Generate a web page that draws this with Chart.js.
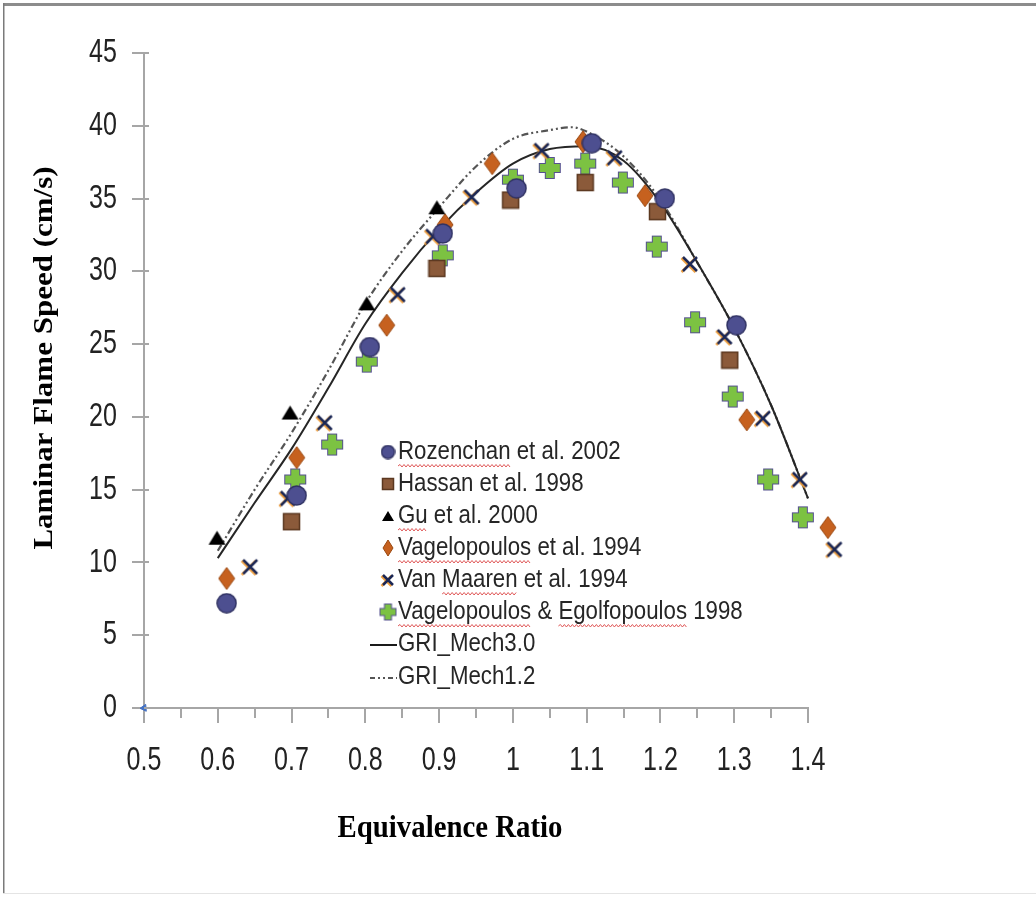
<!DOCTYPE html>
<html>
<head>
<meta charset="utf-8">
<script src="https://cdn.jsdelivr.net/npm/chart.js@4.4.1/dist/chart.umd.min.js"></script>
<style>
  body { margin: 0; background: #fff; }
  #wrap { width: 1036px; height: 897px; }
</style>
</head>
<body>
<div id="wrap"><canvas id="chart" width="1036" height="897"></canvas></div>
<script>
// experimental data (equivalence ratio, laminar flame speed cm/s)
const rozenchanPhi = [0.612, 0.707, 0.806, 0.905, 1.005, 1.107, 1.206, 1.303];
const rozenchanSpeed = [7.2, 14.6, 24.8, 32.6, 35.7, 38.8, 35.0, 26.3];

const hassanPhi = [0.70, 0.897, 0.997, 1.098, 1.196, 1.294];
const hassanSpeed = [12.8, 30.2, 34.9, 36.1, 34.1, 23.9];

const guPhi = [0.599, 0.698, 0.802, 0.897];
const guSpeed = [11.7, 20.3, 27.8, 34.4];

const vag94Phi = [0.612, 0.707, 0.829, 0.908, 0.972, 1.095, 1.179, 1.317, 1.427];
const vag94Speed = [8.9, 17.2, 26.3, 33.2, 37.4, 38.9, 35.2, 19.8, 12.4];

const maarenPhi = [0.644, 0.695, 0.745, 0.844, 0.892, 0.944, 1.039, 1.138, 1.240, 1.287, 1.339, 1.389, 1.436];
const maarenSpeed = [9.7, 14.4, 19.6, 28.4, 32.4, 35.1, 38.3, 37.8, 30.5, 25.5, 19.9, 15.7, 10.9];

const vagEgPhi = [0.705, 0.755, 0.802, 0.905, 1.0, 1.05, 1.098, 1.149, 1.195, 1.247, 1.298, 1.346, 1.393];
const vagEgSpeed = [15.7, 18.1, 23.8, 31.1, 36.3, 37.1, 37.4, 36.1, 31.7, 26.5, 21.4, 15.7, 13.1];

// model curves
const gri30Phi = [0.6, 0.65, 0.7, 0.75, 0.8, 0.85, 0.9, 0.95, 1.0, 1.05, 1.1, 1.15, 1.2, 1.25, 1.3, 1.35, 1.4];
const gri30Speed = [10.3, 14.1, 17.8, 22.0, 26.4, 29.9, 32.9, 35.4, 37.4, 38.4, 38.6, 37.6, 34.7, 30.6, 26.1, 20.8, 14.4];

const gri12Phi = [0.6, 0.65, 0.7, 0.75, 0.8, 0.85, 0.9, 0.95, 1.0, 1.05, 1.08, 1.1, 1.15, 1.2, 1.25, 1.3, 1.35, 1.4];
const gri12Speed = [10.8, 15.0, 18.9, 23.2, 27.8, 31.4, 34.4, 37.2, 39.1, 39.7, 39.9, 39.6, 37.9, 34.9, 30.6, 26.1, 20.8, 14.4];

const seriesNames = [
  "Rozenchan et al. 2002",
  "Hassan et al. 1998",
  "Gu et al. 2000",
  "Vagelopoulos et al. 1994",
  "Van Maaren et al. 1994",
  "Vagelopoulos & Egolfopoulos 1998",
  "GRI_Mech3.0",
  "GRI_Mech1.2"
];
// words with the red spell-check squiggle, per legend row
const squiggleWords = [["Rozenchan"], [], ["Gu"], ["Vagelopoulos"], ["Maaren"], ["Vagelopoulos", "Egolfopoulos"], [], []];

const xTickValues = [0.5, 0.55, 0.6, 0.65, 0.7, 0.75, 0.8, 0.85, 0.9, 0.95, 1.0, 1.05, 1.1, 1.15, 1.2, 1.25, 1.3, 1.35, 1.4];
const xTickLabels = ["0.5", "", "0.6", "", "0.7", "", "0.8", "", "0.9", "", "1", "", "1.1", "", "1.2", "", "1.3", "", "1.4"];
const yTickValues = [0, 5, 10, 15, 20, 25, 30, 35, 40, 45];
const yTickLabels = ["0", "5", "10", "15", "20", "25", "30", "35", "40", "45"];

const SANS = "'Liberation Sans', Arimo, sans-serif";
const SERIF = "'Liberation Serif', 'DejaVu Serif', serif";

function pts(xs, ys) {
  return xs.map((x, i) => ({ x: x, y: ys[i] }));
}

function makeMarker(w, h, draw) {
  const c = document.createElement("canvas");
  c.width = w;
  c.height = h;
  draw(c.getContext("2d"), w, h);
  return c;
}

// marker pictures
function circleMarker(s) {
  return makeMarker(s + 2, s + 2, (g, w, h) => {
    g.beginPath();
    g.arc(w / 2, h / 2, s / 2, 0, Math.PI * 2);
    g.fillStyle = "#4d4f90";
    g.fill();
    g.lineWidth = 1.5;
    g.strokeStyle = "#303263";
    g.stroke();
  });
}
function squareMarker(s) {
  return makeMarker(s + 2, s + 2, (g) => {
    g.fillStyle = "#8b5a3a";
    g.fillRect(1, 1, s, s);
    g.lineWidth = 1.5;
    g.strokeStyle = "#5b3820";
    g.strokeRect(1.5, 1.5, s - 1, s - 1);
  });
}
function triangleMarker(s) {
  const h = Math.round(s * 0.8);
  return makeMarker(s + 2, h + 2, (g) => {
    g.beginPath();
    g.moveTo(1 + s / 2, 1);
    g.lineTo(1 + s, 1 + h);
    g.lineTo(1, 1 + h);
    g.closePath();
    g.fillStyle = "#000";
    g.fill();
  });
}
function diamondMarker(w, h) {
  return makeMarker(w + 2, h + 2, (g) => {
    g.beginPath();
    g.moveTo(1 + w / 2, 1);
    g.lineTo(1 + w, 1 + h / 2);
    g.lineTo(1 + w / 2, 1 + h);
    g.lineTo(1, 1 + h / 2);
    g.closePath();
    g.fillStyle = "#c6611f";
    g.fill();
    g.lineWidth = 1;
    g.strokeStyle = "#9a4810";
    g.stroke();
  });
}
function crossMarker(s) {
  return makeMarker(s + 6, s + 6, (g, w) => {
    const c = w / 2, r = s / 2;
    g.lineWidth = 2.5;
    g.strokeStyle = "#f0a040";
    g.beginPath();
    g.moveTo(c - r - 1.5, c - r + 1); g.lineTo(c + r - 1.5, c + r + 1);
    g.moveTo(c + r - 1.5, c - r + 1); g.lineTo(c - r - 1.5, c + r + 1);
    g.stroke();
    g.strokeStyle = "#1b2755";
    g.beginPath();
    g.moveTo(c - r, c - r); g.lineTo(c + r, c + r);
    g.moveTo(c + r, c - r); g.lineTo(c - r, c + r);
    g.stroke();
  });
}
function plusMarker(s) {
  return makeMarker(s + 4, s + 4, (g, w) => {
    const c = w / 2, r = s / 2, a = s * 0.2;
    g.beginPath();
    g.moveTo(c - a, c - r); g.lineTo(c + a, c - r); g.lineTo(c + a, c - a);
    g.lineTo(c + r, c - a); g.lineTo(c + r, c + a); g.lineTo(c + a, c + a);
    g.lineTo(c + a, c + r); g.lineTo(c - a, c + r); g.lineTo(c - a, c + a);
    g.lineTo(c - r, c + a); g.lineTo(c - r, c - a); g.lineTo(c - a, c - a);
    g.closePath();
    g.lineWidth = 2;
    g.strokeStyle = "#55518f";
    g.stroke();
    g.fillStyle = "#7cc242";
    g.fill();
  });
}

const plotMarkers = [
  circleMarker(19), squareMarker(17), triangleMarker(17),
  diamondMarker(16, 22), crossMarker(14), plusMarker(20)
];
const legendMarkers = [
  circleMarker(13), squareMarker(12), triangleMarker(12),
  diamondMarker(10, 16), crossMarker(10), plusMarker(15)
];

const scatterData = [
  pts(rozenchanPhi, rozenchanSpeed),
  pts(hassanPhi, hassanSpeed),
  pts(guPhi, guSpeed),
  pts(vag94Phi, vag94Speed),
  pts(maarenPhi, maarenSpeed),
  pts(vagEgPhi, vagEgSpeed)
];

// pointRadius only sets the margin for the in-area test here (images keep their own size),
// it is large so the points just right of 1.4 are not dropped
const datasets = scatterData.map((d, i) => ({
  label: seriesNames[i],
  data: d,
  pointStyle: plotMarkers[i],
  pointRadius: 40,
  showLine: false,
  clip: false,
  order: 1
}));

datasets.push({
  label: seriesNames[6],
  data: pts(gri30Phi, gri30Speed),
  showLine: true,
  borderColor: "#262626",
  borderWidth: 2,
  pointRadius: 0,
  cubicInterpolationMode: "monotone",
  order: 5
});
datasets.push({
  label: seriesNames[7],
  data: pts(gri12Phi, gri12Speed),
  showLine: true,
  borderColor: "#555",
  borderWidth: 2.2,
  borderDash: [7, 3, 2, 3, 2, 3],
  pointRadius: 0,
  cubicInterpolationMode: "monotone",
  order: 6
});
// the little stray blue marker at the origin
datasets.push({
  label: "",
  data: [{ x: 0.5, y: 0 }],
  pointStyle: "triangle",
  pointRadius: 4,
  rotation: 25,
  backgroundColor: "#4472c4",
  borderColor: "#4472c4",
  showLine: false,
  clip: false,
  order: 0
});

function squiggle(ctx, x0, x1, y) {
  ctx.save();
  ctx.strokeStyle = "#e05a5a";
  ctx.lineWidth = 1;
  ctx.beginPath();
  let up = true;
  ctx.moveTo(x0, y);
  for (let x = x0 + 2; x <= x1; x += 2) {
    ctx.lineTo(x, up ? y - 1.5 : y + 1);
    up = !up;
  }
  ctx.stroke();
  ctx.restore();
}

// narrow text: the original uses a condensed face, squeeze Liberation Sans
function narrowText(ctx, text, x, y, sx) {
  ctx.save();
  ctx.translate(x, y);
  ctx.scale(sx, 1);
  ctx.fillText(text, 0, 0);
  ctx.restore();
}

const decorations = {
  id: "decorations",
  beforeDraw(chart) {
    const ctx = chart.ctx;
    ctx.save();
    ctx.fillStyle = "#fff";
    ctx.fillRect(0, 0, chart.width, chart.height);
    // frame of the original figure
    ctx.fillStyle = "#8c8c8c";
    ctx.fillRect(3, 3, chart.width - 3, 3);
    ctx.fillStyle = "#7a7a7a";
    ctx.fillRect(3, 3, 1.5, chart.height - 6);
    ctx.fillStyle = "#e4e4e4";
    ctx.fillRect(3, chart.height - 4, chart.width - 3, 1);
    ctx.restore();
  },
  afterDraw(chart) {
    const ctx = chart.ctx;
    const xs = chart.scales.x;
    const ys = chart.scales.y;

    ctx.save();
    ctx.strokeStyle = "#a6a6a6";
    ctx.lineWidth = 2;
    // y ticks cross the axis a little
    yTickValues.forEach((v) => {
      const py = Math.round(ys.getPixelForValue(v));
      ctx.beginPath();
      ctx.moveTo(xs.left, py);
      ctx.lineTo(xs.left + 5, py);
      ctx.stroke();
    });
    // labelled x ticks are a bit longer than the in-between ones
    xTickValues.forEach((v, i) => {
      if (!xTickLabels[i]) return;
      const px = Math.round(xs.getPixelForValue(v));
      ctx.beginPath();
      ctx.moveTo(px, ys.bottom + 10);
      ctx.lineTo(px, ys.bottom + 15);
      ctx.stroke();
    });
    ctx.restore();

    // tick labels
    ctx.save();
    ctx.fillStyle = "#222";
    ctx.font = "33px " + SANS;
    ctx.textBaseline = "middle";
    ctx.textAlign = "center";
    xTickValues.forEach((v, i) => {
      if (xTickLabels[i]) narrowText(ctx, xTickLabels[i], xs.getPixelForValue(v), 761, 0.76);
    });
    ctx.textAlign = "right";
    yTickValues.forEach((v, i) => {
      narrowText(ctx, yTickLabels[i], 117, ys.getPixelForValue(v), 0.76);
    });
    ctx.restore();

    // axis titles
    ctx.save();
    ctx.fillStyle = "#000";
    ctx.textAlign = "center";
    ctx.textBaseline = "middle";
    ctx.font = "bold 32px " + SERIF;
    narrowText(ctx, "Equivalence Ratio", 450, 829, 0.9);
    ctx.font = "bold 31px " + SERIF;
    ctx.translate(45, 358);
    ctx.rotate(-Math.PI / 2);
    ctx.scale(1, 0.85);
    ctx.fillText("Laminar Flame Speed (cm/s)", 0, 0);
    ctx.restore();

    // legend inside the plot
    ctx.save();
    const rowY = [452, 484, 516, 548, 580, 612, 644, 677];
    const textX = 398;
    const sx = 0.89;
    ctx.font = "25px " + SANS;
    ctx.textAlign = "left";
    ctx.textBaseline = "middle";
    seriesNames.forEach((name, i) => {
      const y = rowY[i];
      if (i < 6) {
        const m = legendMarkers[i];
        ctx.drawImage(m, 388 - m.width / 2, y - m.height / 2);
      } else {
        ctx.save();
        ctx.strokeStyle = i === 6 ? "#1a1a1a" : "#555";
        ctx.lineWidth = 2;
        if (i === 7) ctx.setLineDash([5, 3, 2, 3, 2, 3]);
        ctx.beginPath();
        ctx.moveTo(370, y + 1);
        ctx.lineTo(397, y + 1);
        ctx.stroke();
        ctx.restore();
      }
      ctx.fillStyle = "#262626";
      narrowText(ctx, name, textX, y, sx);
      squiggleWords[i].forEach((word) => {
        const start = name.indexOf(word);
        const x0 = textX + sx * ctx.measureText(name.slice(0, start)).width;
        const x1 = x0 + sx * ctx.measureText(word).width;
        squiggle(ctx, x0, x1, y + 14);
      });
    });
    ctx.restore();
  }
};

new Chart(document.getElementById("chart"), {
  type: "scatter",
  data: { datasets: datasets },
  options: {
    responsive: false,
    animation: false,
    events: [],
    layout: { padding: { left: 0, top: 53, right: 228, bottom: 109 } },
    plugins: {
      legend: { display: false },
      tooltip: { enabled: false }
    },
    scales: {
      x: {
        type: "linear",
        bounds: "data",
        // range set here (not as min/max) so points just past 1.4 are still drawn
        afterDataLimits: (s) => { s.min = 0.5; s.max = 1.4; },
        afterBuildTicks: (s) => { s.ticks = xTickValues.map((v) => ({ value: v })); },
        afterFit: (s) => { s.height = 80; },
        ticks: { display: false },
        grid: { drawOnChartArea: false, tickLength: 10, color: "#a6a6a6", lineWidth: 2 },
        border: { color: "#a6a6a6", width: 2 }
      },
      y: {
        type: "linear",
        bounds: "data",
        afterDataLimits: (s) => { s.min = 0; s.max = 45; },
        afterBuildTicks: (s) => { s.ticks = yTickValues.map((v) => ({ value: v })); },
        afterFit: (s) => { s.width = 144; },
        ticks: { display: false },
        grid: { drawOnChartArea: false, tickLength: 12, color: "#a6a6a6", lineWidth: 2 },
        border: { color: "#a6a6a6", width: 2 }
      }
    }
  },
  plugins: [decorations]
});
</script>
</body>
</html>
